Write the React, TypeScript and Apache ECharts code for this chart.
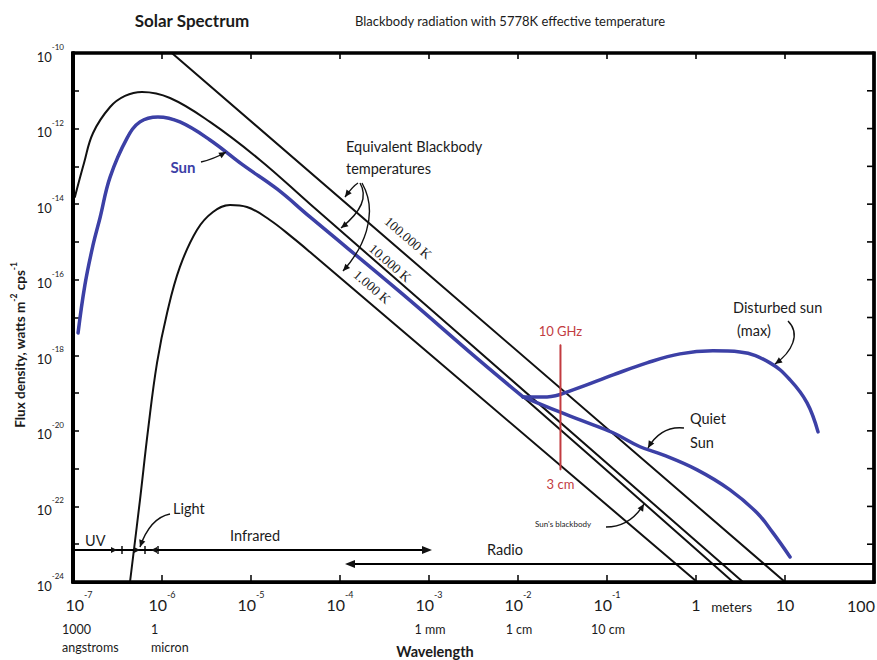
import { useEffect, useRef } from 'react';
import * as echarts from 'echarts';

type Pt = [number, number];

// Wavelength in metres, flux density in W m^-2 Hz^-1
const sunSpectrum: Pt[] = [
  [1.14e-7, 3.9e-18], [1.36e-7, 7.2e-17], [1.68e-7, 8.3e-16], [2.01e-7, 4.3e-15],
  [2.61e-7, 5.2e-14], [4.05e-7, 5.6e-13], [5.66e-7, 1.5e-12], [9.0e-7, 2.03e-12],
  [1.59e-6, 1.5e-12], [3.46e-6, 5.0e-13], [8.1e-6, 1.09e-13], [1.96e-5, 2.52e-14],
  [4.6e-5, 4.58e-15], [4.72e-4, 4.75e-17], [3.74e-3, 7.1e-19], [1.14e-2, 7.9e-20],
];

const quietSun: Pt[] = [
  [1.14e-2, 7.9e-20], [2.12e-2, 4.3e-20], [4.98e-2, 1.95e-20], [0.117, 8.9e-21],
  [0.235, 3.8e-21], [0.426, 2.32e-21], [1.03, 9.3e-22], [2.41, 2.75e-22],
  [4.84, 6.8e-23], [7.33, 2.0e-23], [11.4, 4.6e-24],
];

const disturbedSun: Pt[] = [
  [1.14e-2, 7.9e-20], [2.12e-2, 7.9e-20], [4.15e-2, 1.22e-19], [0.117, 3.03e-19],
  [0.281, 6.3e-19], [0.661, 1.09e-18], [1.55, 1.31e-18], [3.12, 1.23e-18],
  [6.78, 6.3e-19], [11.4, 2.23e-19], [17.7, 5.5e-20], [23.5, 9.4e-21],
];

// Sun's 5778 K blackbody continues past the point where the radio emission departs
const sunBlackbodyTail: Pt[] = [[1.14e-2, 7.9e-20], [2.61, 1e-24]];

const blackbody10000K: Pt[] = [
  [1.05e-7, 1.55e-14], [1.33e-7, 1.23e-13], [1.68e-7, 7.65e-13], [2.61e-7, 3.72e-12],
  [3.84e-7, 7.3e-12], [5.96e-7, 9.3e-12], [1.23e-6, 6.45e-12], [3.46e-6, 1.5e-12],
  [1.26e-5, 1.48e-13], [4.6e-5, 1.01e-14], [3.37, 1e-24],
];

const blackbody1000K: Pt[] = [
  [4.37e-7, 1e-24], [5.66e-7, 1.5e-22], [6.97e-7, 1.06e-20], [8.79e-7, 6.3e-19],
  [1.14e-6, 1.32e-17], [1.59e-6, 2.18e-16], [2.47e-6, 2.08e-15], [3.74e-6, 6.2e-15],
  [5.81e-6, 9.5e-15], [9.0e-6, 8.4e-15], [1.63e-5, 3.8e-15], [2.96e-5, 1.28e-15],
  [4.6e-5, 5.4e-16], [1.03, 1e-24],
];

const rayleighJeans100000K: Pt[] = [[1.29e-6, 1e-10], [10, 1e-24]];

// 10 GHz marker, 3 cm wavelength
const marker3cm: Pt[] = [[0.03, 1.9e-18], [0.03, 9.3e-22]];

// Axis extents in decades
const wavelengthDecades = [-7, 2];
const fluxDecades = [-24, -10];

const unitCaptions: [number, string][] = [
  [-7, '1000\nangstroms'],
  [-6, '1\nmicron'],
  [-3, '1 mm'],
  [-2, '1 cm'],
  [-1, '10 cm'],
];
const meterCaption: [number, string] = [0.4, 'meters'];

const temperatureLabels = ['100.000 K', '10.000 K', '1.000 K'];

const INK = '#1b1b1b';
const SUN_BLUE = '#3c40a6';
const RED = '#c23b3f';

const toLog = (pts: Pt[]) => pts.map(([x, y]) => [Math.log10(x), Math.log10(y)]);

function curve(data: Pt[], color: string, width: number, z: number) {
  return {
    type: 'line',
    data: toLog(data),
    showSymbol: false,
    symbol: 'none',
    smooth: 0.4,
    lineStyle: { color, width, cap: 'round', join: 'round' },
    z,
    silent: true,
  };
}

function buildOption() {
  return {
    animation: false,
    grid: { left: 73, right: 3, top: 53, bottom: 78, show: true, borderColor: '#000', borderWidth: 3 },
    xAxis: {
      type: 'value',
      min: wavelengthDecades[0],
      max: wavelengthDecades[1],
      interval: 1,
      axisLine: { show: true, onZero: false, lineStyle: { color: '#000', width: 3 } },
      axisTick: { show: true, inside: true, length: 7, lineStyle: { color: '#000', width: 1.5 } },
      splitLine: { show: false },
      axisLabel: {
        margin: 8,
        formatter: (v: number) => {
          const e = Math.round(v);
          if (e <= -1) return `{${e === -7 ? 'bl' : 'b'}|10}{s|${e}}`;
          if (e === 0) return '{b|1}';
          if (e === 1) return '{b|10}';
          // the last decade is labelled inside the frame's right edge (see graphics)
          return '';
        },
        rich: {
          b: { fontSize: 16, fontFamily: 'Lato', color: INK, lineHeight: 22, verticalAlign: 'bottom' },
          bl: { fontSize: 16, fontFamily: 'Lato', color: INK, lineHeight: 22, verticalAlign: 'bottom', padding: [0, 0, 0, 12] },
          s: { fontSize: 9, fontFamily: 'Lato', color: INK, lineHeight: 11, verticalAlign: 'top' },
        },
      },
    },
    yAxis: {
      type: 'value',
      min: fluxDecades[0],
      max: fluxDecades[1],
      interval: 1,
      axisLine: { show: true, onZero: false, lineStyle: { color: '#000', width: 3.5 } },
      axisTick: { show: true, inside: true, length: 6, lineStyle: { color: '#000', width: 1.5 } },
      splitLine: { show: false },
      axisLabel: {
        margin: 9,
        formatter: (v: number) => {
          const e = Math.round(v);
          return e % 2 === 0 ? `{b|10}{s|${e}}` : '';
        },
        rich: {
          b: { fontSize: 13, fontFamily: 'Lato', color: INK, lineHeight: 20, verticalAlign: 'bottom' },
          s: { fontSize: 8, fontFamily: 'Lato', color: INK, lineHeight: 10, verticalAlign: 'top' },
        },
      },
    },
    series: [
      curve(blackbody1000K, '#111', 2, 2),
      curve(blackbody10000K, '#111', 2, 2),
      curve(rayleighJeans100000K, '#111', 2, 2),
      curve(sunSpectrum.concat(sunBlackbodyTail.slice(1)), '#111', 2, 2),
      curve(sunSpectrum, SUN_BLUE, 3.5, 3),
      curve(quietSun, SUN_BLUE, 3.5, 3),
      curve(disturbedSun, SUN_BLUE, 3.5, 3),
      {
        type: 'line',
        z: 4,
        silent: true,
        symbol: 'circle',
        symbolSize: 1,
        showSymbol: true,
        itemStyle: { color: RED },
        lineStyle: { color: RED, width: 2 },
        data: toLog(marker3cm).map((p, i) => ({
          value: p,
          label: {
            show: true,
            position: i === 0 ? 'top' : 'bottom',
            distance: 7,
            formatter: i === 0 ? '10 GHz' : '3 cm',
            color: RED,
            fontSize: 13,
            fontFamily: 'Lato',
          },
        })),
      },
    ],
  };
}

function buildGraphics(chart: echarts.ECharts) {
  const els: any[] = [];
  const text = (t: string, x: number, y: number, o: any = {}) =>
    els.push({
      type: 'text',
      x,
      y,
      rotation: o.rotation || 0,
      silent: true,
      z: 20,
      style: {
        text: t,
        fill: o.color || INK,
        fontFamily: o.family || 'Lato',
        fontSize: o.size || 14,
        fontWeight: o.weight || 'normal',
        align: o.align || 'left',
        verticalAlign: o.valign || 'middle',
        lineHeight: o.lineHeight,
        rich: o.rich,
      },
    });

  const head = (x2: number, y2: number, fx: number, fy: number, hl = 7, hw = 3.2) => {
    const dx = x2 - fx;
    const dy = y2 - fy;
    const len = Math.hypot(dx, dy) || 1;
    const ux = dx / len;
    const uy = dy / len;
    const bx = x2 - ux * hl;
    const by = y2 - uy * hl;
    els.push({
      type: 'polygon',
      silent: true,
      z: 20,
      shape: { points: [[x2, y2], [bx - uy * hw, by + ux * hw], [bx + uy * hw, by - ux * hw]] },
      style: { fill: '#111' },
    });
  };

  const arrow = (p0: number[], c1: number[], c2: number[] | null, p1: number[]) => {
    const shape: any = { x1: p0[0], y1: p0[1], x2: p1[0], y2: p1[1], cpx1: c1[0], cpy1: c1[1] };
    if (c2) {
      shape.cpx2 = c2[0];
      shape.cpy2 = c2[1];
    }
    els.push({ type: 'bezierCurve', silent: true, z: 20, shape, style: { stroke: '#111', lineWidth: 1.4, fill: 'none' } });
    const last = c2 || c1;
    head(p1[0], p1[1], last[0], last[1]);
  };

  const segment = (x1: number, y1: number, x2: number, y2: number, w = 2) =>
    els.push({ type: 'line', silent: true, z: 20, shape: { x1, y1, x2, y2 }, style: { stroke: '#000', lineWidth: w } });

  // Frame corners and mirrored decade ticks on the top and right edges, via the grid's scales
  const toPx = (xe: number, ye: number) => chart.convertToPixel({ gridIndex: 0 }, [xe, ye]) as number[];
  const [left, bottom] = toPx(wavelengthDecades[0], fluxDecades[0]);
  const [right, top] = toPx(wavelengthDecades[1], fluxDecades[1]);
  for (let e = wavelengthDecades[0] + 1; e < wavelengthDecades[1]; e++) {
    const x = toPx(e, fluxDecades[1])[0];
    segment(x, top, x, top + 6, 1.6);
  }
  for (let e = fluxDecades[0] + 1; e < fluxDecades[1]; e++) {
    const y = toPx(wavelengthDecades[1], e)[1];
    segment(right, y, right - 7, y, 1.6);
  }
  segment(left, top, right, top, 3);
  segment(left, bottom, right + 1.5, bottom, 3);
  segment(left, top - 1.5, left, bottom + 1.5, 4);
  segment(right, top - 1.5, right, bottom + 1.5, 3.5);

  // Label of the last wavelength decade, kept inside the page edge
  text(String(10 ** wavelengthDecades[1]), right - 13, 605, { size: 16, align: 'center' });

  // Titles
  text('Solar Spectrum', 192, 20, { size: 17, weight: 'bold', align: 'center' });
  text('Blackbody radiation with 5778K effective temperature', 510, 21, { size: 13, align: 'center' });

  // Axis titles
  text('{t|Flux density, watts m}{s|-2}{t| cps}{s|-1}', 18, 345, {
    rotation: Math.PI / 2,
    align: 'center',
    rich: {
      t: { fontSize: 13.5, fontWeight: 'bold', fontFamily: 'Lato', fill: INK, lineHeight: 18, verticalAlign: 'bottom' },
      s: { fontSize: 8.5, fontWeight: 'bold', fontFamily: 'Lato', fill: INK, lineHeight: 10, verticalAlign: 'top' },
    },
  });
  text('Wavelength', 435, 651, { size: 14.5, weight: 'bold', align: 'center' });

  // Unit captions under wavelength decades
  unitCaptions.forEach(([exp, caption]) => {
    const x = toPx(exp, fluxDecades[0])[0];
    const multiLine = caption.includes('\n');
    text(caption, multiLine ? x - 11 : x + 1, 620, {
      size: 12.5,
      align: multiLine ? 'left' : 'center',
      valign: 'top',
      lineHeight: 18,
    });
  });
  text(meterCaption[1], toPx(meterCaption[0], fluxDecades[0])[0], 607, { size: 13.5, align: 'center' });

  // Sun label
  text('Sun', 183, 167, { size: 15, weight: 'bold', color: SUN_BLUE, align: 'center' });
  arrow([201, 162], [214, 159], null, [226, 152]);

  // Equivalent blackbody temperatures
  text('Equivalent Blackbody\ntemperatures', 346, 157, { size: 14.5, lineHeight: 22 });
  arrow([358, 183], [353, 186], null, [345, 197]);
  arrow([360, 183], [370, 200], [356, 216], [341, 228]);
  arrow([362, 183], [380, 215], [362, 250], [343, 271]);

  const tempPos = [[408, 238], [390, 263], [372, 287]];
  temperatureLabels.forEach((t, i) =>
    text(t, tempPos[i][0], tempPos[i][1], {
      family: 'Liberation Serif',
      size: 13.5,
      align: 'center',
      rotation: -0.71,
      color: '#222',
    })
  );

  // Radio region notes
  text('Disturbed sun', 733, 307, { size: 14.5 });
  text('(max)', 737, 330, { size: 14.5 });
  arrow([788, 321], [801, 334], [792, 352], [775, 364]);

  text('Quiet', 690, 418, { size: 14.5 });
  text('Sun', 690, 442, { size: 14.5 });
  arrow([684, 428], [666, 426], [655, 436], [648, 448]);

  text("Sun's blackbody", 535, 524, { size: 8 });
  arrow([606, 527], [630, 527], null, [644, 504]);

  // Spectral bands
  text('Light', 173, 508, { size: 14.5 });
  arrow([170, 514], [150, 518], null, [140, 547]);
  text('UV', 85, 540, { size: 14.5 });
  text('Infrared', 230, 535, { size: 14.5 });
  text('Radio', 487, 549, { size: 14.5 });

  segment(74, 550, 426, 550, 2);
  head(432, 550, 420, 550, 10, 4);
  segment(right, 564, 352, 564, 2);
  head(345, 564, 357, 564, 10, 4);

  // visible-light band markers
  [122, 145, 158].forEach((x) => segment(x, 546, x, 554, 1.4));
  head(117, 550, 110, 550, 6, 3);
  head(140, 550, 133, 550, 6, 3);
  head(151, 550, 158, 550, 6, 3);

  return els;
}

export default function App() {
  const ref = useRef<HTMLDivElement>(null);
  useEffect(() => {
    if (!ref.current) return;
    const chart = echarts.init(ref.current, null, { renderer: 'svg' });
    chart.setOption(buildOption() as any);
    chart.setOption({ graphic: buildGraphics(chart) } as any);
    return () => chart.dispose();
  }, []);
  return (
    <div
      ref={ref}
      style={{ position: 'absolute', left: 0, top: 0, width: 877, height: 660, background: '#fff' }}
    />
  );
}
